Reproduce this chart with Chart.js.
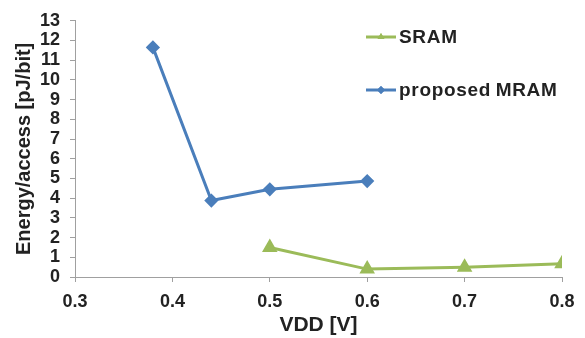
<!DOCTYPE html>
<html>
<head>
<meta charset="utf-8">
<script src="https://cdn.jsdelivr.net/npm/chart.js@4"></script>
<style>
  body { margin: 0; background: #fff; }
  #wrap { position: relative; width: 585px; height: 338px; }
  .leg { position: absolute; font: bold 19px "Liberation Sans", Arial, sans-serif; color: #222; display: flex; align-items: center; letter-spacing: 0.7px; }
  .leg canvas { margin-right: 3px; }
</style>
</head>
<body>
<div id="wrap">
  <canvas id="grafico" width="585" height="338"></canvas>
  <div class="leg" style="left:366px; top:26px;"><canvas id="legSram" width="30" height="14"></canvas>SRAM</div>
  <div class="leg" style="left:366px; top:79px;"><canvas id="legMram" width="30" height="14"></canvas>proposed&#8201;MRAM</div>
</div>
<script>
// datos
const vddSram = [0.5, 0.6, 0.7, 0.8];
const energiaSram = [1.5, 0.4, 0.5, 0.67];
const vddMram = [0.38, 0.44, 0.5, 0.6];
const energiaMram = [11.65, 3.88, 4.45, 4.87];

const colorSram = '#9bbb59';
const colorMram = '#4a7ebb';
const fuente = '"Liberation Sans", Arial, sans-serif';

const aPuntos = (xs, ys) => xs.map((x, i) => ({ x: x, y: ys[i] }));

const grafico = document.getElementById('grafico');
const migrafica = new Chart(grafico, {
    type: 'line',
    data: {
        datasets: [
            {
                label: 'SRAM',
                data: aPuntos(vddSram, energiaSram),
                borderColor: colorSram,
                backgroundColor: colorSram,
                borderWidth: 3,
                pointStyle: 'triangle',
                pointRadius: 6,
                tension: 0
            },
            {
                label: 'proposed MRAM',
                data: aPuntos(vddMram, energiaMram),
                borderColor: colorMram,
                backgroundColor: colorMram,
                borderWidth: 3,
                pointStyle: 'rectRot',
                pointRadius: 5,
                tension: 0
            }
        ]
    },
    options: {
        responsive: false,
        animation: false,
        layout: { padding: { top: 17, right: 23, left: 0, bottom: 0 } },
        plugins: { legend: { display: false }, tooltip: { enabled: false } },
        scales: {
            x: {
                type: 'linear',
                min: 0.3,
                max: 0.8,
                afterFit: (s) => { s.height = 61; },
                ticks: {
                    stepSize: 0.1,
                    autoSkip: false,
                    maxRotation: 0,
                    color: '#222',
                    padding: 9,
                    font: { family: fuente, size: 18, weight: 'bold' },
                    callback: (v) => v.toFixed(1)
                },
                grid: { drawOnChartArea: false, tickLength: 5, color: '#a0a0a0' },
                border: { color: '#a0a0a0', width: 1 },
                title: {
                    display: true,
                    text: 'VDD [V]',
                    color: '#222',
                    padding: { top: 0, bottom: 0 },
                    font: { family: fuente, size: 21, weight: 'bold' }
                }
            },
            y: {
                min: 0,
                max: 13,
                afterFit: (s) => { s.width = 75; },
                ticks: {
                    stepSize: 1,
                    autoSkip: false,
                    color: '#222',
                    padding: 10,
                    font: { family: fuente, size: 18, weight: 'bold' }
                },
                grid: { drawOnChartArea: false, tickLength: 5, color: '#a0a0a0' },
                border: { color: '#a0a0a0', width: 1 },
                title: {
                    display: true,
                    text: 'Energy/access [pJ/bit]',
                    color: '#222',
                    padding: { top: 12, bottom: 0 },
                    font: { family: fuente, size: 20, weight: 'bold' }
                }
            }
        }
    }
});

// muestras de la leyenda
const dibujarMuestra = (id, color, estilo, radio) => {
    const c = document.getElementById(id).getContext('2d');
    c.strokeStyle = color;
    c.lineWidth = 3;
    c.beginPath();
    c.moveTo(0, 7);
    c.lineTo(30, 7);
    c.stroke();
    c.fillStyle = color;
    Chart.helpers.drawPoint(c, { pointStyle: estilo, radius: radio, rotation: 0, borderWidth: 0 }, 15, 7);
    c.fill();
};
dibujarMuestra('legSram', colorSram, 'triangle', 4);
dibujarMuestra('legMram', colorMram, 'rectRot', 4);
</script>
</body>
</html>
